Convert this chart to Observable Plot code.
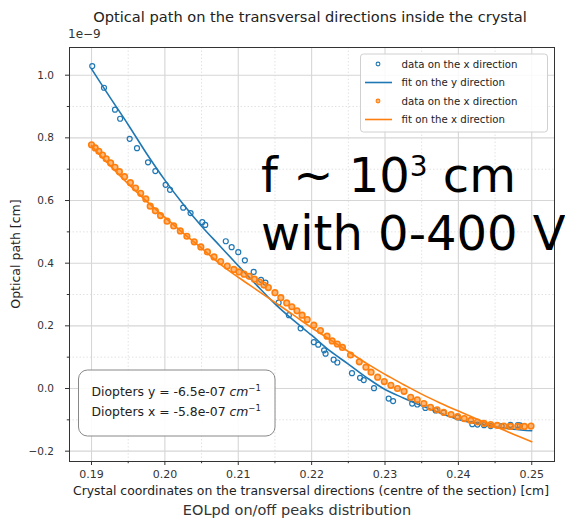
<!DOCTYPE html>
<html><head><meta charset="utf-8">
<script src="https://cdn.jsdelivr.net/npm/d3@7"></script>
<script src="https://cdn.jsdelivr.net/npm/@observablehq/plot@0.6"></script>
<style>
body{margin:0;background:#fff;overflow:hidden}
#chart svg{font-family:"DejaVu Sans",sans-serif;display:block}
</style>
</head><body><div id="chart"></div>
<script>
// ---- data ----
const blueX = [0.1901,0.1917,0.1932,0.1939,0.1952,0.1962,0.1977,0.1987,0.2001,0.2007,0.2025,0.2035,0.2051,0.2055,0.2083,0.2091,0.2100,0.2109,0.2121,0.2131,0.2137,0.2155,0.2169,0.2185,0.2203,0.2209,0.2217,0.2219,0.2230,0.2235,0.2255,0.2266,0.2271,0.2285,0.2305,0.2311,0.2337,0.2344,0.2355,0.2369,0.2380,0.2399,0.2419,0.2426,0.2435,0.2444,0.2459,0.2471,0.2481,0.2484];
const blueY = [1.029,0.960,0.890,0.861,0.797,0.767,0.722,0.694,0.650,0.634,0.577,0.560,0.531,0.522,0.470,0.451,0.435,0.409,0.372,0.347,0.338,0.274,0.234,0.192,0.148,0.140,0.122,0.111,0.092,0.083,0.049,0.034,0.027,0.001,-0.032,-0.040,-0.048,-0.051,-0.062,-0.070,-0.077,-0.092,-0.114,-0.115,-0.117,-0.120,-0.120,-0.116,-0.117,-0.118];

const fitX = [0.190,0.1925,0.195,0.1975,0.200,0.2025,0.205,0.2075,0.210,0.2125,0.215,0.2175,0.220,0.2225,0.225,0.2275,0.230,0.2325,0.235,0.2375,0.240,0.2425,0.245,0.2475,0.250];
const blueFitY = [1.020,0.930,0.842,0.750,0.665,0.588,0.518,0.455,0.392,0.330,0.270,0.218,0.170,0.120,0.078,0.035,-0.003,-0.030,-0.055,-0.078,-0.099,-0.112,-0.122,-0.130,-0.135];
const orangeFitY = [0.775,0.712,0.653,0.598,0.546,0.496,0.448,0.398,0.355,0.315,0.275,0.235,0.194,0.156,0.118,0.080,0.045,0.013,-0.018,-0.046,-0.072,-0.097,-0.121,-0.146,-0.170];

const orangeX = [0.1900,0.1905,0.1910,0.1915,0.1920,0.1926,0.1932,0.1938,0.1945,0.1953,0.1960,0.1967,0.1974,0.1980,0.1987,0.1994,0.2003,0.2012,0.2021,0.2030,0.2040,0.2049,0.2058,0.2067,0.2076,0.2085,0.2094,0.2101,0.2108,0.2115,0.2122,0.2129,0.2135,0.2141,0.2150,0.2158,0.2166,0.2173,0.2180,0.2187,0.2194,0.2203,0.2212,0.2221,0.2228,0.2235,0.2242,0.2253,0.2265,0.2274,0.2281,0.2290,0.2299,0.2308,0.2317,0.2326,0.2335,0.2344,0.2353,0.2362,0.2371,0.2380,0.2390,0.2399,0.2408,0.2417,0.2426,0.2435,0.2444,0.2453,0.2462,0.2471,0.2481,0.2490,0.2499];
const orangeY = [0.778,0.768,0.757,0.745,0.733,0.720,0.706,0.692,0.676,0.657,0.640,0.623,0.605,0.582,0.567,0.552,0.534,0.519,0.503,0.486,0.468,0.452,0.436,0.420,0.405,0.391,0.380,0.372,0.365,0.358,0.349,0.340,0.330,0.322,0.306,0.290,0.273,0.261,0.248,0.234,0.220,0.202,0.185,0.167,0.152,0.142,0.131,0.107,0.085,0.068,0.052,0.036,0.022,0.010,0.000,-0.009,-0.028,-0.036,-0.048,-0.060,-0.068,-0.076,-0.083,-0.090,-0.096,-0.102,-0.107,-0.111,-0.115,-0.118,-0.120,-0.121,-0.121,-0.121,-0.120];

const xTicks = [0.19,0.20,0.21,0.22,0.23,0.24,0.25];
const xMinor = [0.195,0.205,0.215,0.225,0.235,0.245];
const yTicks = [-0.2,0.0,0.2,0.4,0.6,0.8,1.0];
const yMinor = [-0.1,0.1,0.3,0.5,0.7,0.9];

const legendLabels = ["data on the x direction","fit on the y direction","data on the x direction","fit on the x direction"];
const titleText = "Optical path on the transversal directions inside the crystal";
const xLabel = "Crystal coordinates on the transversal directions (centre of the section) [cm]";
const yLabel = "Optical path [cm]";
const caption = "EOLpd on/off peaks distribution";
const diopters = ["Diopters y = -6.5e-07 ", "Diopters x = -5.8e-07 "];

const BLUE = "#1f77b4", ORANGE = "#ff7f0e";

const blue = blueX.map((x,i)=>({x, y: blueY[i]}));
const orange = orangeX.map((x,i)=>({x, y: orangeY[i]}));
const blueFit = fitX.map((x,i)=>({x, y: blueFitY[i]}));
const orangeFit = fitX.map((x,i)=>({x, y: orangeFitY[i]}));

const W = 565, H = 518;
const chart = Plot.plot({
  width: W, height: H,
  marginLeft: 69, marginRight: 11, marginTop: 47, marginBottom: 57,
  style: {fontFamily: "DejaVu Sans, sans-serif", background: "#fff", color: "#333", overflow: "hidden"},
  x: {domain: [0.187, 0.2531]},
  y: {domain: [-0.233, 1.0884]},
  marks: [
    Plot.ruleX(xMinor, {stroke: "#e2e2e2", strokeDasharray: "1.5,2", strokeWidth: 1}),
    Plot.ruleY(yMinor, {stroke: "#e2e2e2", strokeDasharray: "1.5,2", strokeWidth: 1}),
    Plot.ruleX(xTicks, {stroke: "#d6d6d6", strokeWidth: 1.1}),
    Plot.ruleY(yTicks, {stroke: "#d6d6d6", strokeWidth: 1.1}),
    Plot.dot(blue, {x: "x", y: "y", r: 2.5, stroke: BLUE, strokeWidth: 1.2, fill: "none"}),
    Plot.line(blueFit, {x: "x", y: "y", stroke: BLUE, strokeWidth: 1.6, curve: "catmull-rom"}),
    Plot.dot(orange, {x: "x", y: "y", r: 2.8, stroke: ORANGE, strokeWidth: 1.6, fill: ORANGE, fillOpacity: 0.55}),
    Plot.line(orangeFit, {x: "x", y: "y", stroke: ORANGE, strokeWidth: 1.6, curve: "catmull-rom"}),
    Plot.frame({stroke: "#333", strokeWidth: 1}),
    Plot.axisX(xTicks, {tickSize: 4, tickPadding: 5, fontSize: 11, tickFormat: d3.format(".2f"), label: null, stroke: "#333"}),
    Plot.axisX(xMinor, {tickSize: 2.2, tickFormat: () => "", label: null, stroke: "#333"}),
    Plot.axisY(yTicks, {tickSize: 4, tickPadding: 11.5, fontSize: 10.5, tickFormat: d3.format(".1f"), label: null, stroke: "#333"}),
    Plot.axisY(yMinor, {tickSize: 2.2, tickFormat: () => "", label: null, stroke: "#333"})
  ]
});
document.getElementById("chart").appendChild(chart);

const svg = d3.select(chart);
const ff = "DejaVu Sans, sans-serif";
// title and labels
svg.append("text").attr("x", 310).attr("y", 21.5).attr("text-anchor","middle")
  .attr("font-size", 14.6).attr("fill","#222").attr("font-family", ff).text(titleText);
svg.append("text").attr("x", 68).attr("y", 38).attr("text-anchor","start")
  .attr("font-size", 12).attr("fill","#333").attr("font-family", ff).text("1e\u22129");
svg.append("text").attr("x", 311).attr("y", 495).attr("text-anchor","middle")
  .attr("font-size", 12.4).attr("fill","#222").attr("font-family", ff).text(xLabel);
svg.append("text").attr("transform","translate(20,254) rotate(-90)").attr("text-anchor","middle")
  .attr("font-size", 12.5).attr("fill","#222").attr("font-family", ff).text(yLabel);
svg.append("text").attr("x", 297).attr("y", 515).attr("text-anchor","middle")
  .attr("font-size", 14.5).attr("fill","#333").attr("font-family", ff).text(caption);

// legend
const lg = svg.append("g").attr("font-family", ff).attr("font-size", 10.2).attr("fill", "#222").attr("text-anchor", "start");
lg.append("rect").attr("x", 360.5).attr("y", 54).attr("width", 187).attr("height", 78).attr("rx", 3)
  .attr("fill", "#fff").attr("fill-opacity", 0.85).attr("stroke", "#d0d0d0");
const rowY = [64, 82.5, 101, 119.5];
const kinds = [["dot", BLUE], ["line", BLUE], ["dot", ORANGE], ["line", ORANGE]];
legendLabels.forEach((lab, i) => {
  const [k, c] = kinds[i];
  if (k === "dot") lg.append("circle").attr("cx", 378).attr("cy", rowY[i]).attr("r", 1.9)
      .attr("fill", c === ORANGE ? c : "none").attr("fill-opacity", 0.55).attr("stroke", c).attr("stroke-width", 1.1);
  else lg.append("line").attr("x1", 365).attr("x2", 392).attr("y1", rowY[i]).attr("y2", rowY[i]).attr("stroke", c).attr("stroke-width", 1.6);
  lg.append("text").attr("x", 401.5).attr("y", rowY[i] + 3.6).text(lab);
});

// diopters annotation box
const ab = svg.append("g").attr("font-family", ff).attr("font-size", 12.4).attr("fill", "#222").attr("text-anchor", "start");
ab.append("rect").attr("x", 78.5).attr("y", 370).attr("width", 196.5).attr("height", 66).attr("rx", 9)
  .attr("fill", "#fff").attr("fill-opacity", 0.9).attr("stroke", "#888").attr("stroke-width", 1);
[396, 416].forEach((yy, i) => {
  const t = ab.append("text").attr("x", 91.5).attr("y", yy);
  t.append("tspan").text(diopters[i]);
  t.append("tspan").attr("font-style", "italic").text("cm");
  t.append("tspan").attr("font-size", 8.5).attr("dy", -5).text("\u22121");
});

// big overlay text
const big = svg.append("g").attr("font-family", ff).attr("fill", "#000").attr("text-anchor", "start");
const t1 = big.append("text").attr("x", 261).attr("y", 191.7).attr("font-size", 48);
t1.append("tspan").text("f ~ 10");
t1.append("tspan").attr("font-size", 28).attr("dy", -16).text("3");
t1.append("tspan").attr("dy", 16).text(" cm");
big.append("text").attr("x", 261).attr("y", 250).attr("font-size", 48).text("with 0-400 V");
</script>
</body></html>
